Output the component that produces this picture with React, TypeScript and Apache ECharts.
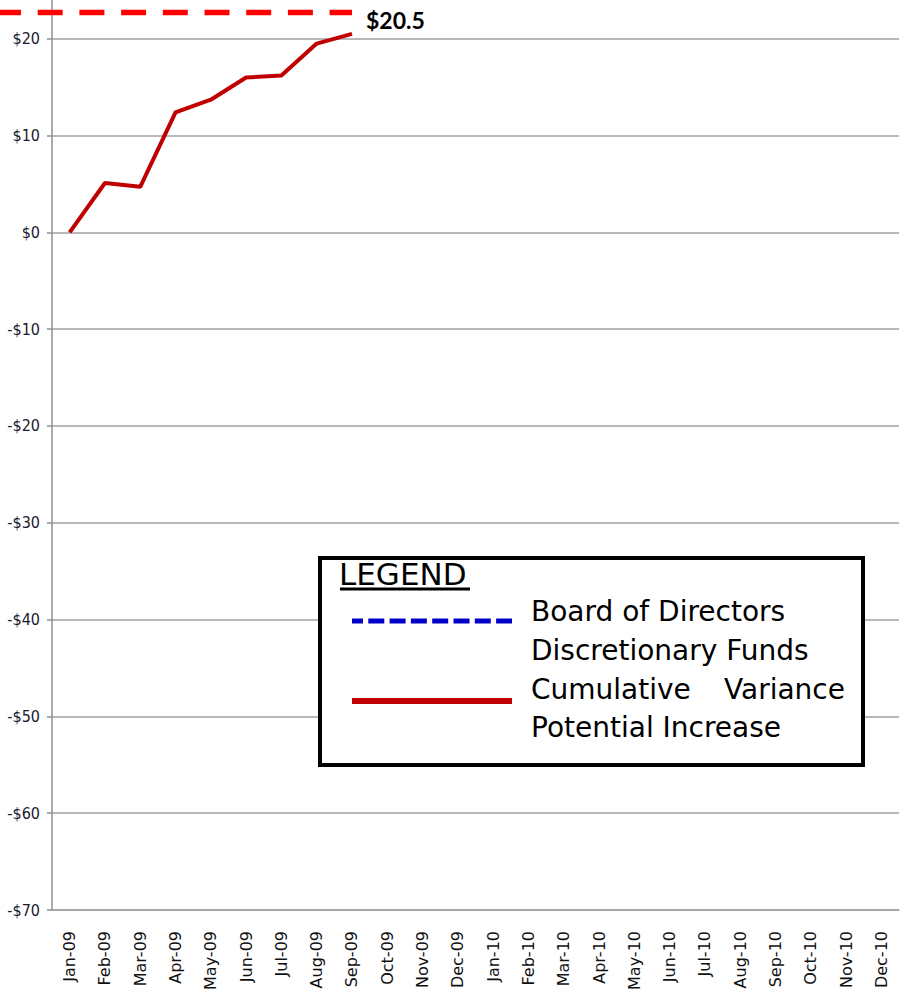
import React, { useEffect, useRef } from "react";
import * as echarts from "echarts";

const MONTHS = [
  "Jan-09", "Feb-09", "Mar-09", "Apr-09", "May-09", "Jun-09",
  "Jul-09", "Aug-09", "Sep-09", "Oct-09", "Nov-09", "Dec-09",
  "Jan-10", "Feb-10", "Mar-10", "Apr-10", "May-10", "Jun-10",
  "Jul-10", "Aug-10", "Sep-10", "Oct-10", "Nov-10", "Dec-10",
];
const CUMULATIVE_VARIANCE = [0, 5.1, 4.7, 12.4, 13.7, 16.0, 16.2, 19.5, 20.5];
const FUNDS_LEVEL = 22.7;
const Y_MIN = -70;
const Y_MAX = 24;
const Y_STEP = 10;

const LEGEND_TITLE = "LEGEND";
const LEGEND_LINES = ["Board of Directors", "Discretionary Funds", "Potential Increase"];

const fmtMoney = (v: number) => {
  if (Math.round(v) % Y_STEP !== 0) return "";
  return v < 0 ? "-$" + Math.abs(v) : "$" + v;
};

export default function App() {
  const ref = useRef<HTMLDivElement>(null);
  useEffect(() => {
    if (!ref.current) return;
    const chart = echarts.init(ref.current, null, { renderer: "svg" });
    chart.setOption({
      animation: false,
      backgroundColor: "#ffffff",
      grid: { left: 52, right: 2, top: 0, bottom: 85, containLabel: false },
      xAxis: {
        type: "category",
        data: MONTHS,
        boundaryGap: true,
        axisLine: { onZero: false, lineStyle: { color: "#a0a0a0", width: 1.5 } },
        axisTick: { show: false },
        axisLabel: {
          rotate: 90,
          interval: 0,
          margin: 21,
          color: "#111",
          fontFamily: "'DejaVu Sans', sans-serif",
          fontSize: 16,
        },
        splitLine: { show: false },
      },
      yAxis: {
        type: "value",
        min: Y_MIN,
        max: Y_MAX,
        interval: Y_STEP,
        axisLine: { show: true, lineStyle: { color: "#909090", width: 1.5 } },
        axisTick: { show: true, length: 5, lineStyle: { color: "#909090", width: 1.5 } },
        axisLabel: {
          margin: 12,
          showMaxLabel: false,
          color: "#1a1a2e",
          fontFamily: "'Liberation Sans Narrow', 'DejaVu Sans Condensed', sans-serif",
          fontSize: 16,
          formatter: (v: number) => fmtMoney(v),
        },
        splitLine: { show: true, showMaxLine: false, lineStyle: { color: "#a0a0a0", width: 1.5 } },
      },
      series: [
        {
          name: "Cumulative Variance Potential Increase",
          type: "line",
          data: CUMULATIVE_VARIANCE,
          symbol: "none",
          lineStyle: { color: "#C00000", width: 4 },
          z: 5,
        },
      ],
    });

    const lastIdx = CUMULATIVE_VARIANCE.length - 1;
    const end = chart.convertToPixel({ gridIndex: 0 }, [MONTHS[lastIdx], FUNDS_LEVEL]) as number[];
    const lastVal = CUMULATIVE_VARIANCE[lastIdx];

    const legendFont = "'DejaVu Sans', sans-serif";
    chart.setOption({
      graphic: [
        {
          type: "line",
          shape: { x1: -4, y1: end[1], x2: end[0], y2: end[1] },
          style: { stroke: "#FF0000", lineWidth: 5.5, lineDash: [25, 16.7] },
          z: 10,
        },
        {
          type: "text",
          x: end[0] + 14,
          y: end[1] + 7,
          style: {
            text: "$" + lastVal.toFixed(1),
            fill: "#000",
            font: "bold 23px Lato, 'Open Sans', sans-serif",
            textVerticalAlign: "middle",
            textAlign: "left",
          },
          z: 10,
        },
        {
          type: "rect",
          shape: { x: 320, y: 558, width: 543, height: 207 },
          style: { fill: "#ffffff", stroke: "#000000", lineWidth: 4 },
          z: 20,
        },
        {
          type: "text",
          x: 339,
          y: 574,
          style: {
            text: LEGEND_TITLE,
            fill: "#000",
            font: "31px " + legendFont,
            textVerticalAlign: "middle",
            textAlign: "left",
          },
          z: 21,
        },
        {
          type: "line",
          shape: { x1: 340, y1: 589, x2: 470, y2: 589 },
          style: { stroke: "#000", lineWidth: 3 },
          z: 21,
        },
        {
          type: "line",
          shape: { x1: 352, y1: 621, x2: 512, y2: 621 },
          style: { stroke: "#0000C8", lineWidth: 5, lineDash: [16, 5.3], lineDashOffset: 5.3 },
          z: 21,
        },
        {
          type: "line",
          shape: { x1: 352, y1: 701, x2: 512, y2: 701 },
          style: { stroke: "#C00000", lineWidth: 6 },
          z: 21,
        },
        {
          type: "text",
          x: 531,
          y: 611,
          style: { text: LEGEND_LINES[0], fill: "#000", font: "28px " + legendFont, textVerticalAlign: "middle" },
          z: 21,
        },
        {
          type: "text",
          x: 531,
          y: 650,
          style: { text: LEGEND_LINES[1], fill: "#000", font: "28px " + legendFont, textVerticalAlign: "middle" },
          z: 21,
        },
        {
          type: "text",
          x: 531,
          y: 689,
          style: { text: "Cumulative", fill: "#000", font: "28px " + legendFont, textVerticalAlign: "middle" },
          z: 21,
        },
        {
          type: "text",
          x: 845,
          y: 689,
          style: { text: "Variance", fill: "#000", font: "28px " + legendFont, textVerticalAlign: "middle", textAlign: "right" },
          z: 21,
        },
        {
          type: "text",
          x: 531,
          y: 727,
          style: { text: LEGEND_LINES[2], fill: "#000", font: "28px " + legendFont, textVerticalAlign: "middle" },
          z: 21,
        },
      ],
    });

    return () => chart.dispose();
  }, []);

  return <div ref={ref} style={{ width: 901, height: 995, position: "absolute", left: 0, top: 0 }} />;
}
